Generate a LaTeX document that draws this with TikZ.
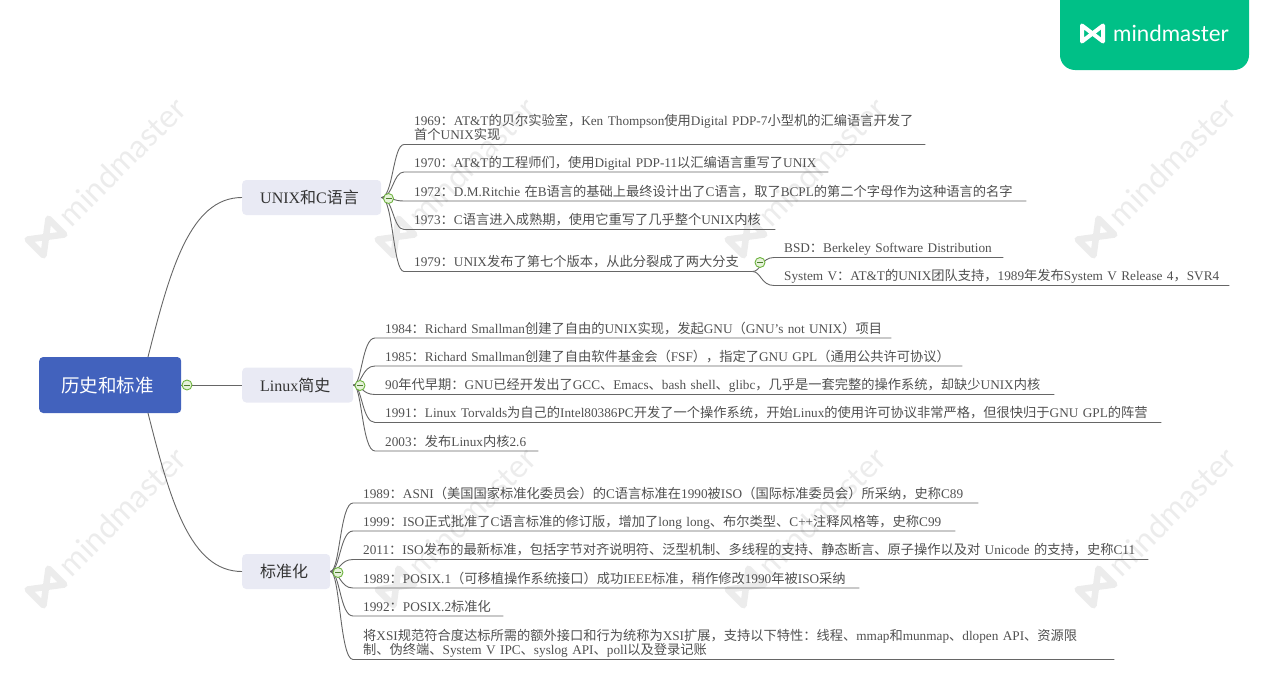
\documentclass[tikz,border=0pt]{standalone}
\usepackage{fontspec}
\usepackage{xcolor}
\usetikzlibrary{positioning}
\setmainfont{Liberation Serif}
\newfontfamily\cjk{Noto Sans CJK SC}
\newfontfamily\logofont{Lato}
\newXeTeXintercharclass\cjkclass
\newcount\cjkcode
\newcommand{\cjkrange}[2]{%
  \cjkcode=#1\relax
  \loop\XeTeXcharclass\cjkcode=\cjkclass
  \ifnum\cjkcode<#2\relax\advance\cjkcode by 1\repeat}
\cjkrange{"3000}{"303F}
\cjkrange{"4E00}{"9FFF}
\cjkrange{"FF00}{"FFEF}
\XeTeXinterchartokenstate=1
\XeTeXinterchartoks 0 \cjkclass={\cjk}
\XeTeXinterchartoks 4095 \cjkclass={\cjk}
\XeTeXinterchartoks \cjkclass 0={\rmfamily}
\XeTeXinterchartoks \cjkclass 4095={\rmfamily}
\definecolor{MainFill}{HTML}{4262BD}
\definecolor{TopicFill}{HTML}{E9EAF4}
\definecolor{TopicInk}{HTML}{333333}
\definecolor{LeafInk}{HTML}{505050}
\definecolor{LinkInk}{HTML}{666666}
\definecolor{HubEdge}{HTML}{6DB33F}
\definecolor{HubFill}{HTML}{E6F2DA}
\definecolor{LogoGreen}{HTML}{00C087}
\definecolor{MarkShade}{HTML}{ECECEC}
\tikzset{
  figure/.style={x=1pt,y=-1pt},
  maintopic/.style={anchor=west,fill=MainFill,rounded corners=4pt,text=white,align=left,font=\fontsize{18.5}{22}\selectfont,inner xsep=22pt,text width=98pt,minimum height=56pt},
  topic/.style={anchor=west,fill=TopicFill,rounded corners=4pt,text=TopicInk,align=left,font=\fontsize{16}{19}\selectfont,minimum height=35pt,inner xsep=18pt,text width=#1pt},
  leaf/.style={anchor=south west,inner xsep=0pt,inner ysep=1.5pt,text depth=3pt,text=LeafInk,font=\fontsize{13.25}{14.7}\selectfont,text width=#1pt,
    execute at begin node={\parindent=0pt\leftskip=10pt\rightskip=0pt plus 1fil\relax}},
  link/.style={draw=LinkInk,line width=0.9pt},
  hub/.style={circle,draw=HubEdge,fill=HubFill,line width=0.9pt,inner sep=0pt,minimum size=10pt,
    path picture={\draw[HubEdge!70!black,line width=1pt,shorten >=2pt,shorten <=2pt] (path picture bounding box.west) -- (path picture bounding box.east);}},
  logomark/.pic={\draw[line join=round,pic actions] (-10.5,-8) -- (-10.5,8) -- (10.5,-8) -- (10.5,8) -- cycle;},
}

\begin{document}
\begin{tikzpicture}[figure]
  \useasboundingbox (0,0) rectangle (1269,699);

  \foreach \wx/\wy in {46/237,396/237,746/237,1096/237,46/587,396/587,746/587,1096/587} {
    \pic[draw=MarkShade,rotate=45,scale=1.4,line width=6.5pt] at (\wx,\wy) {logomark};
    \node[rotate=45,anchor=west,text=MarkShade,font=\logofont\fontsize{32}{36}\selectfont,inner sep=0pt] at (\wx+17,\wy-17) {mindmaster};
  }

  \fill[LogoGreen] (1060,0) [rounded corners=15pt] -- (1060,70) -- (1249,70) [sharp corners] -- (1249,0) -- cycle;
  \pic[draw=white,line width=4pt] at (1092.5,33.5) {logomark};
  \node[anchor=west,text=white,font=\logofont\fontsize{22.3}{25}\selectfont,inner sep=0pt] (logoText) at (1113,33) {mindmaster};

  \node[maintopic] (mainTopic) at (39,385) {历史和标准};
  \node[topic=103] (topUnix) at (242,197.5) {UNIX和C语言};
  \node[topic=75] (topLinux) at (242,385) {Linux简史};
  \node[topic=52] (topStd) at (242,571.5) {标准化};

  \node[leaf=521,text depth=17.7pt] (unix1) at (404,144.5) {1969：AT\&T的贝尔实验室，Ken Thompson使用Digital PDP-7小型机的汇编语言开发了\\首个UNIX实现};
  \node[leaf=424] (unix2) at (404,172) {1970：AT\&T的工程师们，使用Digital PDP-11以汇编语言重写了UNIX};
  \node[leaf=622] (unix3) at (404,201) {1972：D.M.Ritchie 在B语言的基础上最终设计出了C语言，取了BCPL的第二个字母作为这种语言的名字};
  \node[leaf=371] (unix4) at (404,229.5) {1973：C语言进入成熟期，使用它重写了几乎整个UNIX内核};
  \node[leaf=348] (unix5) at (404,271.5) {1979：UNIX发布了第七个版本，从此分裂成了两大分支};
  \node[leaf=229] (branch1) at (774,257.5) {BSD：Berkeley Software Distribution};
  \node[leaf=455] (branch2) at (774,285.5) {System V：AT\&T的UNIX团队支持，1989年发布System V Release 4，SVR4};

  \node[leaf=516] (linux1) at (375,338) {1984：Richard Smallman创建了自由的UNIX实现，发起GNU（GNU's not UNIX）项目};
  \node[leaf=587] (linux2) at (375,366) {1985：Richard Smallman创建了自由软件基金会（FSF），指定了GNU GPL（通用公共许可协议）};
  \node[leaf=679] (linux3) at (375,394.5) {90年代早期：GNU已经开发出了GCC、Emacs、bash shell、glibc，几乎是一套完整的操作系统，却缺少UNIX内核};
  \node[leaf=786] (linux4) at (375,422.5) {1991：Linux Torvalds为自己的Intel80386PC开发了一个操作系统，开始Linux的使用许可协议非常严格，但很快归于GNU GPL的阵营};
  \node[leaf=163] (linux5) at (375,451) {2003：发布Linux内核2.6};

  \node[leaf=625] (std1) at (353,503) {1989：ASNI（美国国家标准化委员会）的C语言标准在1990被ISO（国际标准委员会）所采纳，史称C89};
  \node[leaf=602] (std2) at (353,531) {1999：ISO正式批准了C语言标准的修订版，增加了long long、布尔类型、C++注释风格等，史称C99};
  \node[leaf=795] (std3) at (353,559.5) {2011：ISO发布的最新标准，包括字节对齐说明符、泛型机制、多线程的支持、静态断言、原子操作以及对 Unicode 的支持，史称C11};
  \node[leaf=506] (std4) at (353,588) {1989：POSIX.1（可移植操作系统接口）成功IEEE标准，稍作修改1990年被ISO采纳};
  \node[leaf=150] (std5) at (353,616) {1992：POSIX.2标准化};
  \node[leaf=761,text depth=17.7pt] (std6) at (353,659.5) {将XSI规范符合度达标所需的额外接口和行为统称为XSI扩展，支持以下特性：线程、mmap和munmap、dlopen API、资源限\\制、伪终端、System V IPC、syslog API、poll以及登录记账};

  \coordinate (mainUp) at (148,357);
  \coordinate (mainDown) at (148,413);
  \coordinate (bendUnix) at (393,0);
  \coordinate (bendBranch) at (761,0);
  \coordinate (bendLinux) at (362,0);
  \coordinate (bendStd) at (340,0);
  \coordinate (branchRoot) at (unix5.south east);

  \draw[link] (mainTopic.east) -- (topLinux.west);
  \draw[link] (mainUp) .. controls (170,270) and (190,197.5) .. (topUnix.west);
  \draw[link] (mainDown) .. controls (170,500) and (190,571.5) .. (topStd.west);

  \foreach \leafname in {unix1,unix2,unix3,unix4,unix5}
    \draw[link] (topUnix.east) .. controls (topUnix.east -| bendUnix) and (bendUnix |- \leafname.south west) .. (\leafname.south west) -- (\leafname.south east);
  \foreach \leafname in {branch1,branch2}
    \draw[link] (branchRoot) .. controls (branchRoot -| bendBranch) and (bendBranch |- \leafname.south west) .. (\leafname.south west) -- (\leafname.south east);
  \foreach \leafname in {linux1,linux2,linux3,linux4,linux5}
    \draw[link] (topLinux.east) .. controls (topLinux.east -| bendLinux) and (bendLinux |- \leafname.south west) .. (\leafname.south west) -- (\leafname.south east);
  \foreach \leafname in {std1,std2,std3,std4,std5,std6}
    \draw[link] (topStd.east) .. controls (topStd.east -| bendStd) and (bendStd |- \leafname.south west) .. (\leafname.south west) -- (\leafname.south east);

  \node[hub] (hubMain) at (187,385) {};
  \node[hub] (hubUnix) at (388.5,198.5) {};
  \node[hub] (hubBranch) at (760,262.5) {};
  \node[hub] (hubLinux) at (360,385.5) {};
  \node[hub] (hubStd) at (338,572.5) {};
\end{tikzpicture}
\end{document}
